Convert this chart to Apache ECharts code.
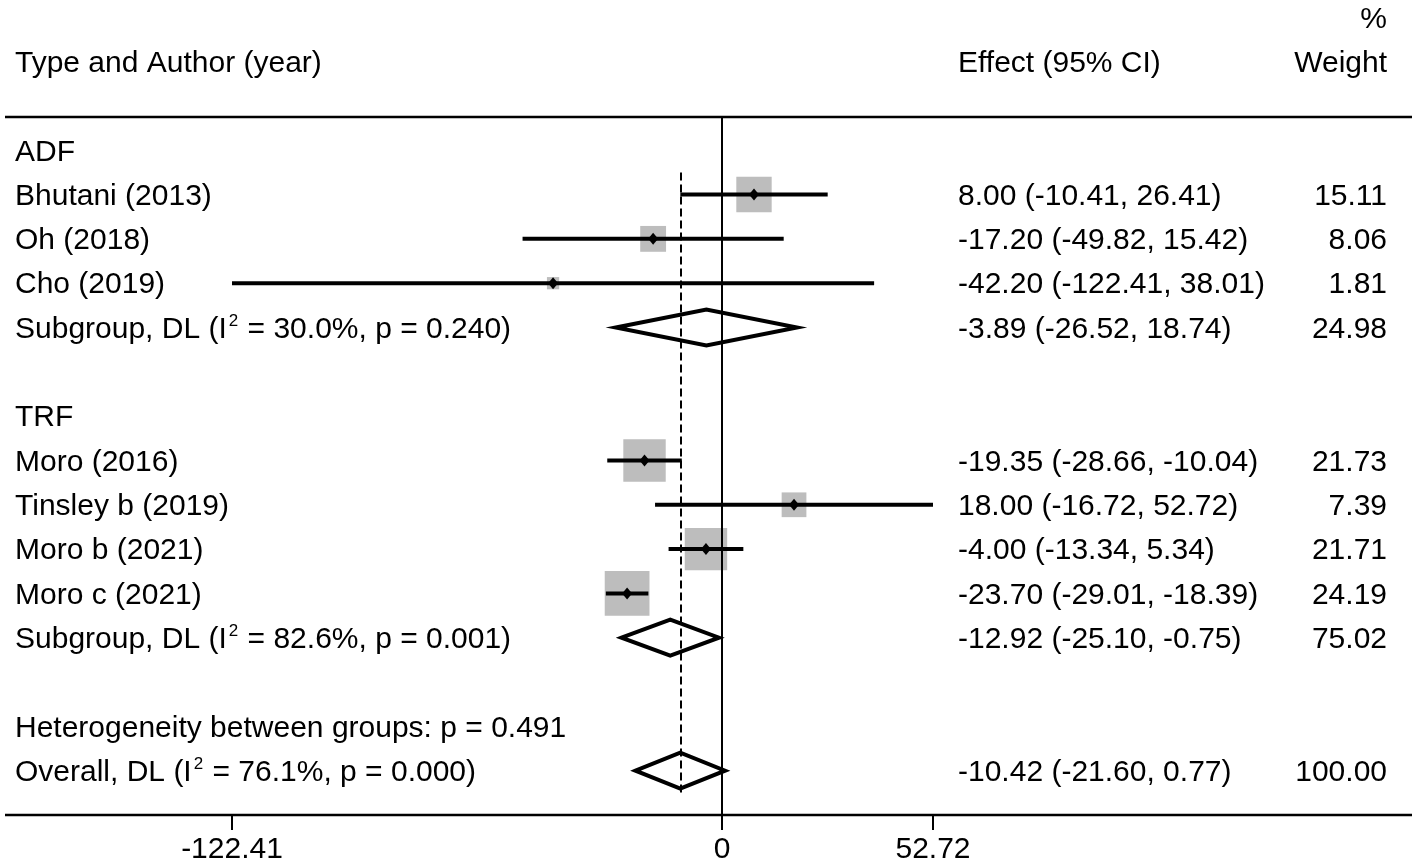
<!DOCTYPE html>
<html>
<head>
<meta charset="utf-8">
<script src="https://cdn.jsdelivr.net/npm/echarts@6/dist/echarts.min.js"></script>
<style>
  html, body { margin: 0; padding: 0; background: #fff; }
  #chart { width: 1418px; height: 865px; }
</style>
</head>
<body>
<div id="chart"></div>
<script>
// ── DATA ─────────────────────────────────────────────────────────────────────
// rows are counted top to bottom, 1 = "ADF"
const groupNames = ['ADF', 'TRF'];
const groupRow   = [1, 7];

const studyNames  = ['Bhutani (2013)', 'Oh (2018)', 'Cho (2019)', 'Moro (2016)', 'Tinsley b (2019)', 'Moro b (2021)', 'Moro c (2021)'];
const studyRow    = [2, 3, 4, 8, 9, 10, 11];
const studyEffect = [8.00, -17.20, -42.20, -19.35, 18.00, -4.00, -23.70];
const studyLower  = [-10.41, -49.82, -122.41, -28.66, -16.72, -13.34, -29.01];
const studyUpper  = [26.41, 15.42, 38.01, -10.04, 52.72, 5.34, -18.39];
const studyWeight = [15.11, 8.06, 1.81, 21.73, 7.39, 21.71, 24.19];

const pooledNames  = ['Subgroup, DL', 'Subgroup, DL', 'Overall, DL'];
const pooledI2     = ['30.0%', '82.6%', '76.1%'];
const pooledP      = ['0.240', '0.001', '0.000'];
const pooledRow    = [5, 12, 15];
const pooledEffect = [-3.89, -12.92, -10.42];
const pooledLower  = [-26.52, -25.10, -21.60];
const pooledUpper  = [18.74, -0.75, 0.77];
const pooledWeight = [24.98, 75.02, 100.00];

const noteText = ['Heterogeneity between groups: p = 0.491'];
const noteRow  = [14];

const tickValues = [-122.41, 0, 52.72];
const tickLabels = ['-122.41', '0', '52.72'];

// ── LAYOUT ───────────────────────────────────────────────────────────────────
const FONT       = '"Liberation Sans", Arial, sans-serif';
const FS         = 30;
const TEXT_DY    = 2;      // small nudge so text sits on the row like the original
const COL_LABEL  = 15;     // left text column
const COL_EFFECT = 958;    // effect (95% CI) column
const COL_WEIGHT = 1387;   // weight column (right aligned)
const BOX_SCALE  = 9.1;    // square side = BOX_SCALE * sqrt(weight)
const BOX_COLOR  = '#bdbdbd';
const DIAM_H     = 18;     // pooled diamond half height

const fmt = v => v.toFixed(2);
const ciText = (e, l, u) => fmt(e) + ' (' + fmt(l) + ', ' + fmt(u) + ')';

function txt(x, y, s, align, rich) {
  const style = {
    x: x, y: y + TEXT_DY, text: s, fill: '#000',
    font: FS + 'px ' + FONT,
    align: align, verticalAlign: 'middle'
  };
  if (rich) style.rich = rich;
  return { type: 'text', style: style };
}

const richI2 = {
  t: { fontSize: FS, fontFamily: FONT, color: '#000', lineHeight: 34 },
  s: { fontSize: 17, fontFamily: FONT, color: '#000', lineHeight: 17, verticalAlign: 'top', padding: [0, 1, 0, 2] }
};

const hdr = (x, y, s, align) => ({
  type: 'text',
  style: { x: x, y: y, text: s, font: FS + 'px ' + FONT, fill: '#000', align: align, verticalAlign: 'middle' }
});

const chart = echarts.init(document.getElementById('chart'), null, { renderer: 'canvas' });

chart.setOption({
  backgroundColor: '#fff',
  animation: false,
  grid: { left: 232, right: 485, top: 117, bottom: 50 },
  xAxis: {
    type: 'value', min: tickValues[0], max: tickValues[2],
    axisLine: { show: false },
    splitLine: { show: false },
    axisTick: {
      show: true, customValues: tickValues, length: 15,
      lineStyle: { color: '#000', width: 2 }
    },
    axisLabel: {
      show: true, customValues: tickValues, margin: 20,
      color: '#000', fontSize: FS, fontFamily: FONT,
      formatter: function (v) {
        const k = tickValues.findIndex(t => Math.abs(t - v) < 1e-6);
        return k >= 0 ? tickLabels[k] : '';
      }
    }
  },
  yAxis: { type: 'value', inverse: true, min: 0.25, max: 16, show: false },
  graphic: [
    { type: 'line', shape: { x1: 5, y1: 117, x2: 1412, y2: 117 }, style: { stroke: '#000', lineWidth: 2.5 } },
    { type: 'line', shape: { x1: 5, y1: 815, x2: 1412, y2: 815 }, style: { stroke: '#000', lineWidth: 2.5 } },
    hdr(COL_LABEL, 64, 'Type and Author (year)', 'left'),
    hdr(COL_EFFECT, 64, 'Effect (95% CI)', 'left'),
    hdr(COL_WEIGHT, 64, 'Weight', 'right'),
    hdr(COL_WEIGHT, 20, '%', 'right')
  ],
  series: [
    // group headers + heterogeneity note
    {
      type: 'custom',
      data: groupRow.map((r, i) => [0, r, i]).concat(noteRow.map((r, i) => [0, r, 100 + i])),
      renderItem: function (params, api) {
        const k = api.value(2);
        const p = api.coord([0, api.value(1)]);
        const s = k >= 100 ? noteText[k - 100] : groupNames[k];
        return txt(COL_LABEL, p[1], s, 'left');
      }
    },
    // individual studies
    {
      type: 'custom',
      data: studyRow.map((r, i) => [studyEffect[i], r, studyLower[i], studyUpper[i], studyWeight[i]]),
      renderItem: function (params, api) {
        const i = params.dataIndex;
        const row = api.value(1);
        const pt = api.coord([api.value(0), row]);
        const lo = api.coord([api.value(2), row]);
        const hi = api.coord([api.value(3), row]);
        const side = BOX_SCALE * Math.sqrt(api.value(4));
        return {
          type: 'group',
          children: [
            { type: 'rect', shape: { x: pt[0] - side / 2, y: pt[1] - side / 2, width: side, height: side }, style: { fill: BOX_COLOR } },
            { type: 'line', shape: { x1: lo[0], y1: lo[1], x2: hi[0], y2: hi[1] }, style: { stroke: '#000', lineWidth: 4 } },
            { type: 'polygon', shape: { points: [[pt[0] - 5, pt[1]], [pt[0], pt[1] - 6], [pt[0] + 5, pt[1]], [pt[0], pt[1] + 6]] }, style: { fill: '#000' } },
            txt(COL_LABEL, pt[1], studyNames[i], 'left'),
            txt(COL_EFFECT, pt[1], ciText(studyEffect[i], studyLower[i], studyUpper[i]), 'left'),
            txt(COL_WEIGHT, pt[1], fmt(studyWeight[i]), 'right')
          ]
        };
      },
      markLine: {
        silent: true, symbol: ['none', 'none'], label: { show: false },
        data: [
          { xAxis: 0, lineStyle: { color: '#000', width: 2, type: 'solid' } },
          [
            { coord: [pooledEffect[2], 1.5], lineStyle: { color: '#000', width: 2, type: [8, 4] } },
            { coord: [pooledEffect[2], 15.5] }
          ]
        ]
      }
    },
    // pooled diamonds
    {
      type: 'custom',
      data: pooledRow.map((r, i) => [pooledEffect[i], r, pooledLower[i], pooledUpper[i], pooledWeight[i]]),
      renderItem: function (params, api) {
        const i = params.dataIndex;
        const row = api.value(1);
        const pt = api.coord([api.value(0), row]);
        const lo = api.coord([api.value(2), row]);
        const hi = api.coord([api.value(3), row]);
        const label = '{t|' + pooledNames[i] + ' (I}{s|2}{t| = ' + pooledI2[i] + ', p = ' + pooledP[i] + ')}';
        return {
          type: 'group',
          children: [
            {
              type: 'polygon',
              shape: { points: [[lo[0], lo[1]], [pt[0], pt[1] - DIAM_H], [hi[0], hi[1]], [pt[0], pt[1] + DIAM_H]] },
              style: { fill: '#fff', stroke: '#000', lineWidth: 4, lineJoin: 'miter' }
            },
            txt(COL_LABEL, pt[1], label, 'left', richI2),
            txt(COL_EFFECT, pt[1], ciText(pooledEffect[i], pooledLower[i], pooledUpper[i]), 'left'),
            txt(COL_WEIGHT, pt[1], fmt(pooledWeight[i]), 'right')
          ]
        };
      }
    }
  ]
});
</script>
</body>
</html>
